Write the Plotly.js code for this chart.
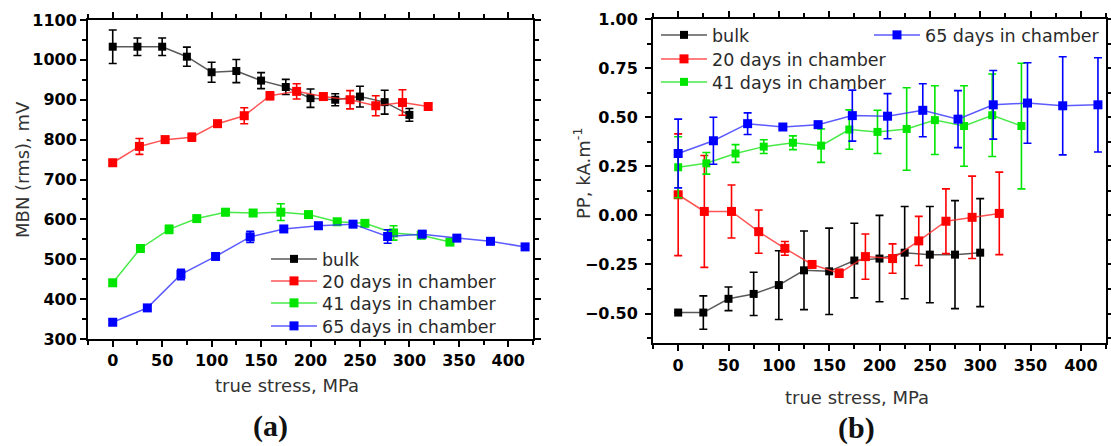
<!DOCTYPE html>
<html>
<head>
<meta charset="utf-8">
<script src="https://cdn.plot.ly/plotly-3.0.1.min.js"></script>
<style>
  html, body { margin: 0; padding: 0; background: #fff; }
  #chart { width: 1111px; height: 446px; }
</style>
</head>
<body>
<div id="chart"></div>
<script>
// ---- (a) MBN (rms) versus true stress ----
const stressBulkA = [0, 25, 50, 75, 100, 125, 150, 175, 200, 225, 250, 275, 300];
const mbnBulk     = [1033, 1033, 1033, 1008, 969, 972, 948, 932, 904, 900, 908, 894, 862];
const mbnBulkErr  = [42, 22, 22, 24, 25, 29, 20, 19, 23, 15, 26, 30, 16];

const stress20A = [0, 27, 53, 80, 106, 133, 159, 186, 213, 240, 266, 293, 319];
const mbn20     = [742, 783, 800, 806, 840, 860, 910, 921, 908, 900, 885, 893, 883];
const mbn20Err  = [6, 20, 8, 10, 8, 20, 10, 19, 8, 23, 25, 32, 8];

const stress41A = [0, 28, 57, 85, 114, 142, 170, 198, 227, 255, 284, 312, 341];
const mbn41     = [441, 527, 575, 602, 618, 616, 618, 612, 594, 590, 566, 560, 543];
const mbn41Err  = [6, 6, 10, 6, 8, 8, 21, 6, 6, 6, 18, 6, 6];

const stress65A = [0, 35, 69, 104, 139, 173, 208, 243, 278, 313, 348, 382, 417];
const mbn65     = [342, 378, 462, 507, 556, 576, 584, 588, 557, 563, 553, 545, 531];
const mbn65Err  = [6, 6, 13, 6, 14, 6, 8, 6, 17, 6, 6, 6, 6];

// ---- (b) PP versus true stress ----
const stressBulkB = [0, 25, 50, 75, 100, 125, 150, 175, 200, 225, 250, 275, 300];
const ppBulk      = [-0.495, -0.495, -0.425, -0.40, -0.355, -0.28, -0.285, -0.23, -0.22, -0.19, -0.20, -0.20, -0.19];
const ppBulkErr   = [0, 0.085, 0.06, 0.11, 0.175, 0.20, 0.22, 0.19, 0.22, 0.235, 0.245, 0.275, 0.275];

const stress20B = [0, 26, 53, 80, 106, 133, 160, 186, 213, 239, 266, 292, 319];
const pp20      = [0.105, 0.02, 0.02, -0.083, -0.168, -0.25, -0.295, -0.21, -0.22, -0.13, -0.03, -0.01, 0.01];
const pp20Err   = [0.31, 0.285, 0.135, 0.11, 0.035, 0.01, 0.02, 0.115, 0.075, 0.125, 0.165, 0.21, 0.21];

const stress41B = [0, 28, 57, 85, 114, 142, 170, 198, 227, 255, 284, 312, 341];
const pp41      = [0.245, 0.265, 0.315, 0.35, 0.37, 0.355, 0.437, 0.425, 0.44, 0.485, 0.455, 0.51, 0.455];
const pp41Err   = [0.155, 0.055, 0.045, 0.035, 0.035, 0.085, 0.10, 0.11, 0.21, 0.175, 0.205, 0.21, 0.32];

const stress65B = [0, 35, 69, 104, 139, 173, 208, 243, 278, 313, 347, 382, 417];
const pp65      = [0.315, 0.38, 0.467, 0.45, 0.462, 0.508, 0.505, 0.535, 0.49, 0.563, 0.572, 0.558, 0.563];
const pp65Err   = [0.175, 0.12, 0.055, 0.01, 0.01, 0.13, 0.115, 0.135, 0.145, 0.175, 0.205, 0.25, 0.24];

const seriesNames = ['bulk', '20 days in chamber', '41 days in chamber', '65 days in chamber'];
const seriesColors = ['#000000', '#ff0000', '#00e600', '#0000ff'];
const lineColors = ['rgba(60,60,60,0.85)', 'rgba(255,40,40,0.8)', 'rgba(40,230,40,0.85)', 'rgba(50,50,255,0.8)'];

const W = 1111, H = 446;
const px = v => v / W;
const py = v => 1 - v / H;

function series(i, x, y, err, xa, ya, legend, size) {
  return {
    type: 'scatter', mode: 'lines+markers',
    name: seriesNames[i], x: x, y: y,
    xaxis: xa, yaxis: ya, legend: legend,
    line: { color: lineColors[i], width: 1.5 },
    marker: { symbol: 'square', size: size, color: seriesColors[i], line: { width: 0 } },
    error_y: { type: 'data', array: err, visible: true, color: seriesColors[i], thickness: 1.6, width: 4 }
  };
}

// every legend entry gets its own one-row legend so rows can be placed freely
const traces = [
  series(0, stressBulkA, mbnBulk, mbnBulkErr, 'x', 'y', 'legend', 8),
  series(1, stress20A, mbn20, mbn20Err, 'x', 'y', 'legend2', 9),
  series(2, stress41A, mbn41, mbn41Err, 'x', 'y', 'legend3', 9),
  series(3, stress65A, mbn65, mbn65Err, 'x', 'y', 'legend4', 9),
  series(0, stressBulkB, ppBulk, ppBulkErr, 'x2', 'y2', 'legend5', 8),
  series(1, stress20B, pp20, pp20Err, 'x2', 'y2', 'legend6', 9),
  series(2, stress41B, pp41, pp41Err, 'x2', 'y2', 'legend7', 8),
  series(3, stress65B, pp65, pp65Err, 'x2', 'y2', 'legend8', 9)
];

const tickFont = { family: 'DejaVu Sans', size: 16, color: '#000', weight: 'bold' };
const axisCommon = {
  showline: true, linecolor: '#000', linewidth: 2, mirror: 'ticks',
  ticks: 'outside', ticklen: 6, tickwidth: 2, tickcolor: '#000',
  showgrid: false, zeroline: false, tickfont: tickFont, fixedrange: true
};

const legendFont = { family: 'DejaVu Sans', size: 17.5, color: '#2a2a2a' };
function legendAt(left, rowY) {
  return {
    x: px(left), y: py(rowY), xanchor: 'left', yanchor: 'middle',
    bgcolor: 'rgba(0,0,0,0)', borderwidth: 0, itemwidth: 46,
    font: legendFont, tracegroupgap: 0, itemclick: false, itemdoubleclick: false
  };
}

const titleFont = { family: 'DejaVu Sans', size: 18, color: '#333' };
const labelFont = { family: 'Liberation Serif', size: 30, color: '#111' };

const layout = {
  width: W, height: H,
  margin: { l: 0, r: 0, t: 0, b: 0 },
  paper_bgcolor: '#fff', plot_bgcolor: '#fff',
  showlegend: true,
  xaxis: Object.assign({}, axisCommon, {
    domain: [px(88), px(533)], anchor: 'y', range: [-25, 425],
    tickvals: [0, 50, 100, 150, 200, 250, 300, 350, 400],
    minor: { dtick: 25, tick0: 0, ticks: 'outside', ticklen: 4, tickwidth: 2, tickcolor: '#000' }
  }),
  yaxis: Object.assign({}, axisCommon, {
    domain: [py(339), py(20)], anchor: 'x', range: [300, 1100], dtick: 100,
    minor: { dtick: 50, tick0: 0, ticks: 'outside', ticklen: 4, tickwidth: 2, tickcolor: '#000' }
  }),
  xaxis2: Object.assign({}, axisCommon, {
    domain: [px(653), px(1106)], anchor: 'y2', range: [-25, 425],
    tickvals: [0, 50, 100, 150, 200, 250, 300, 350, 400], ticklabelstandoff: 1,
    minor: { dtick: 25, tick0: 0, ticks: 'outside', ticklen: 4, tickwidth: 2, tickcolor: '#000' }
  }),
  yaxis2: Object.assign({}, axisCommon, {
    domain: [py(343), py(19)], anchor: 'x2', range: [-0.65, 1.0], dtick: 0.25, tick0: 0,
    tickformat: '.2f', ticklabelstandoff: 4,
    minor: { dtick: 0.125, tick0: 0, ticks: 'outside', ticklen: 4, tickwidth: 2, tickcolor: '#000' }
  }),
  legend:  legendAt(266, 259),
  legend2: legendAt(266, 281),
  legend3: legendAt(266, 303),
  legend4: legendAt(266, 326),
  legend5: legendAt(656, 35),
  legend6: legendAt(656, 59),
  legend7: legendAt(656, 82),
  legend8: legendAt(869, 35),
  annotations: [
    { text: 'MBN (rms), mV', xref: 'paper', yref: 'paper', x: px(22), y: py(170),
      xanchor: 'center', yanchor: 'middle', textangle: -90, showarrow: false, font: titleFont },
    { text: 'true stress, MPa', xref: 'paper', yref: 'paper', x: px(287), y: py(385),
      xanchor: 'center', yanchor: 'middle', showarrow: false, font: titleFont },
    { text: 'PP, kA.m<sup>-1</sup>', xref: 'paper', yref: 'paper', x: px(582), y: py(174),
      xanchor: 'center', yanchor: 'middle', textangle: -90, showarrow: false, font: titleFont },
    { text: 'true stress, MPa', xref: 'paper', yref: 'paper', x: px(857), y: py(397),
      xanchor: 'center', yanchor: 'middle', showarrow: false, font: titleFont },
    { text: '<b>(a)</b>', xref: 'paper', yref: 'paper', x: px(270), y: py(426),
      xanchor: 'center', yanchor: 'middle', showarrow: false, font: labelFont },
    { text: '<b>(b)</b>', xref: 'paper', yref: 'paper', x: px(856), y: py(428),
      xanchor: 'center', yanchor: 'middle', showarrow: false, font: labelFont }
  ]
};

Plotly.newPlot('chart', traces, layout, { staticPlot: true, displayModeBar: false });
</script>
</body>
</html>
